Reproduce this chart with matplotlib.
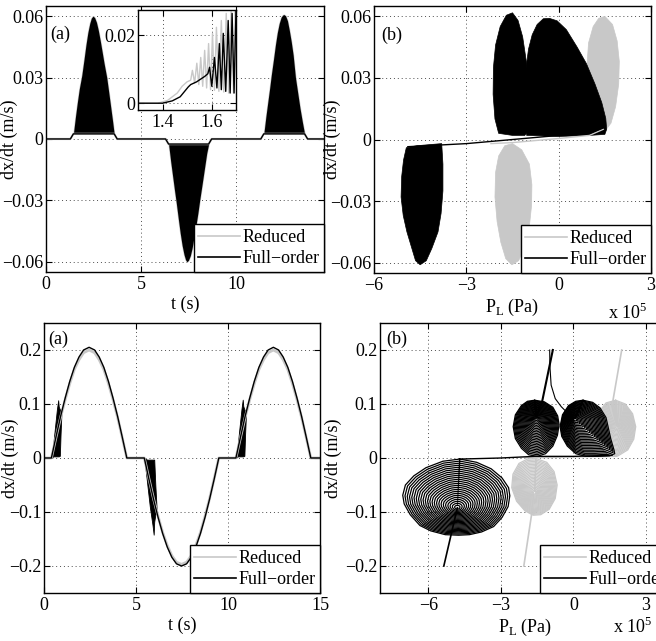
import numpy as np
import matplotlib
matplotlib.use("Agg")
import matplotlib.pyplot as plt
from matplotlib.lines import Line2D

plt.rcParams["font.family"] = ["Liberation Serif", "DejaVu Serif"]
plt.rcParams["mathtext.fontset"] = "custom"
plt.rcParams["mathtext.rm"] = "Liberation Serif"
plt.rcParams["axes.unicode_minus"] = True

GRAY = "#c8c8c8"
FS = 13

# ── Top-left: velocity time history, small input ──
TL_BASE_T = [0, 1.28, 1.44, 3.58, 3.74, 6.28, 6.44, 8.54, 8.70, 11.28, 11.44, 13.58, 13.74, 14.6]
TL_BASE_V = [0, 0, 0.0025, 0.0025, 0, 0, -0.0025, -0.0025, 0, 0, 0.0025, 0.0025, 0, 0]
LOBE_FLOOR = 0.0025

LOBE1_T = [1.44, 1.55, 1.65, 1.75, 1.88, 2.00, 2.10, 2.20, 2.30, 2.38, 2.46, 2.55,
           2.65, 2.75, 2.85, 2.95, 3.05, 3.19, 3.30, 3.40, 3.50, 3.58]
LOBE1_V = [0.0025, 0.011, 0.018, 0.0245, 0.031, 0.039, 0.046, 0.052, 0.0565, 0.059, 0.060, 0.0594,
           0.057, 0.053, 0.048, 0.0425, 0.037, 0.030, 0.0225, 0.0155, 0.0085, 0.0025]
LOBE2_T = [6.44, 6.55, 6.65, 6.75, 6.84, 6.95, 7.05, 7.15, 7.25, 7.33, 7.40, 7.48,
           7.58, 7.68, 7.78, 7.88, 7.98, 8.07, 8.20, 8.32, 8.44, 8.54]
LOBE2_V = [-0.0025, -0.011, -0.018, -0.025, -0.031, -0.039, -0.046, -0.052, -0.0565, -0.059, -0.060, -0.0593,
           -0.057, -0.053, -0.0475, -0.042, -0.036, -0.030, -0.022, -0.0145, -0.007, -0.0025]
LOBE3_T = [11.44, 11.55, 11.65, 11.75, 11.83, 11.95, 12.05, 12.15, 12.25, 12.35, 12.43, 12.49,
           12.58, 12.68, 12.78, 12.88, 12.98, 13.10, 13.22, 13.34, 13.46, 13.58]
LOBE3_V = [0.0025, 0.011, 0.018, 0.025, 0.031, 0.039, 0.046, 0.052, 0.0565, 0.0595, 0.0605, 0.0608,
           0.0602, 0.0578, 0.053, 0.0475, 0.041, 0.030, 0.0225, 0.015, 0.0085, 0.0025]

# inset: start of the first lobe
INSET_RED_T = [1.30, 1.38, 1.42, 1.46, 1.48, 1.50, 1.515, 1.522, 1.531, 1.540, 1.548, 1.556, 1.564, 1.572,
               1.580, 1.588, 1.596, 1.604, 1.612, 1.620, 1.630, 1.640, 1.650, 1.660, 1.670, 1.680,
               1.690, 1.697, 1.70]
INSET_RED_V = [0.0, 0.0, 0.0008, 0.003, 0.005, 0.0063, 0.0068, 0.0097, 0.0060, 0.0118, 0.0055, 0.0135,
               0.0050, 0.0156, 0.0045, 0.0176, 0.0040, 0.0206, 0.0038, 0.0224, 0.0035, 0.0244, 0.0033,
               0.0265, 0.0030, 0.0274, 0.0030, 0.0285, 0.02]
INSET_FULL_T = [1.30, 1.40, 1.44, 1.472, 1.505, 1.515, 1.539, 1.572, 1.585, 1.592, 1.601, 1.612, 1.622,
                1.632, 1.640, 1.648, 1.658, 1.668, 1.676, 1.684, 1.692, 1.700]
INSET_FULL_V = [0.0, 0.0, 0.0007, 0.0019, 0.0048, 0.0055, 0.0063, 0.0079, 0.0087, 0.0106, 0.0050, 0.0135,
                0.0045, 0.0176, 0.0040, 0.0206, 0.0035, 0.0244, 0.0030, 0.0265, 0.0030, 0.0280]

# ── Top-right: phase portrait, small input (x in 1e5 Pa) ──
TR_FULL_LOW_X = [-4.95, -4.6, -4.2, -3.8, -3.76, -3.76, -3.82, -3.92, -4.12, -4.3, -4.5,
                 -4.65, -4.77, -4.93, -5.05, -5.12, -5.10, -5.04]
TR_FULL_LOW_Y = [-0.004, -0.003, -0.0025, -0.002, -0.012, -0.025, -0.036, -0.045, -0.053, -0.059, -0.061,
                 -0.059, -0.053, -0.045, -0.037, -0.028, -0.018, -0.010]
TR_FULL_UL_X = [-1.5, -1.95, -2.07, -2.13, -2.12, -2.05, -1.9, -1.7, -1.5, -1.32, -1.17, -1.05,
                -0.98, -0.97, -1.0, -1.1]
TR_FULL_UL_Y = [0.002, 0.003, 0.010, 0.022, 0.035, 0.046, 0.055, 0.0605, 0.0617, 0.058, 0.050, 0.038,
                0.025, 0.012, 0.004, 0.002]
TR_FULL_UR_X = [-1.04, -1.07, -1.08, -1.05, -0.98, -0.86, -0.7, -0.5, -0.3, -0.05, 0.25, 0.6, 0.9,
                1.18, 1.4, 1.53, 1.56, 1.5, 1.0, 0.0]
TR_FULL_UR_Y = [0.002, 0.015, 0.027, 0.036, 0.044, 0.051, 0.056, 0.0588, 0.059, 0.0578, 0.0535, 0.045,
                0.037, 0.027, 0.018, 0.0103, 0.005, 0.0025, 0.002, 0.0015]
TR_RED_UP_X = [1.5, 1.75, 1.9, 1.97, 1.95, 1.85, 1.7, 1.5, 1.3, 1.1, 0.97, 0.92, 0.97, 1.12, 1.3]
TR_RED_UP_Y = [0.060, 0.056, 0.048, 0.038, 0.027, 0.016, 0.008, 0.004, 0.006, 0.013, 0.024, 0.036,
               0.047, 0.055, 0.059]
TR_RED_LOW_X = [-1.5, -1.2, -0.95, -0.87, -0.88, -0.95, -1.1, -1.3, -1.52, -1.72, -1.88, -2.0,
                -2.07, -2.05, -1.95, -1.75]
TR_RED_LOW_Y = [-0.002, -0.005, -0.012, -0.022, -0.032, -0.042, -0.052, -0.059, -0.061, -0.058, -0.050,
                -0.040, -0.028, -0.016, -0.008, -0.003]
TR_FULL_LINK_X = [-4.9, -3.0, -1.5, 0.0, 1.0, 1.5]
TR_FULL_LINK_Y = [-0.0035, -0.002, 0.0, 0.002, 0.003, 0.006]
TR_RED_LINK_X = [-2.2, -1.5, 0.0, 1.0, 1.45]
TR_RED_LINK_Y = [-0.002, -0.0015, 0.0005, 0.002, 0.005]

# ── Bottom-left: velocity time history, large input ──
HALF1_T = [0.40, 0.65, 0.90, 1.15, 1.40, 1.65, 1.90, 2.15, 2.45, 2.75, 3.00, 3.25, 3.50, 3.75, 4.00, 4.25, 4.50]
HALF2_T = [5.45, 5.70, 5.95, 6.20, 6.45, 6.70, 6.95, 7.20, 7.475, 7.75, 8.00, 8.25, 8.50, 8.75, 9.00, 9.25, 9.50]
HALF3_T = [10.43, 10.68, 10.93, 11.18, 11.43, 11.68, 11.93, 12.18, 12.465, 12.75, 13.00, 13.25, 13.50,
           13.75, 14.00, 14.25, 14.50]
FULL_POS = [0, 0.039, 0.077, 0.111, 0.142, 0.168, 0.187, 0.200, 0.205, 0.200, 0.187, 0.168, 0.142, 0.111, 0.077, 0.039, 0]
FULL_NEG = [0, -0.039, -0.076, -0.110, -0.140, -0.165, -0.184, -0.196, -0.200, -0.196, -0.184, -0.165, -0.140,
            -0.110, -0.076, -0.039, 0]
RED_POS = [0, 0.038, 0.075, 0.108, 0.138, 0.164, 0.182, 0.195, 0.200, 0.195, 0.182, 0.164, 0.138, 0.108, 0.075, 0.038, 0]
RED_NEG = [0, -0.038, -0.075, -0.108, -0.138, -0.162, -0.181, -0.193, -0.197, -0.193, -0.181, -0.162, -0.138,
           -0.108, -0.075, -0.038, 0]
BURST1_T = [0.40, 0.50, 0.60, 0.70, 0.77, 0.80, 0.86, 0.90, 0.95]
BURST1_HI = [0, 0.025, 0.058, 0.090, 0.107, 0.095, 0.090, 0.089, 0.085]
BURST1_LO = [0, 0.003, 0.003, 0.003, 0.003, 0.003, 0.004, 0.045, 0.085]
BURST2_T = [5.45, 5.60, 5.75, 5.90, 5.96, 5.99, 6.05, 6.13]
BURST2_HI = [0, -0.003, -0.003, -0.003, -0.003, -0.003, -0.050, -0.100]
BURST2_LO = [0, -0.045, -0.090, -0.125, -0.142, -0.118, -0.105, -0.100]
BURST3_T = [10.43, 10.53, 10.63, 10.73, 10.80, 10.83, 10.89, 10.93, 10.98]
BURST3_HI = [0, 0.025, 0.058, 0.090, 0.108, 0.096, 0.090, 0.089, 0.085]
BURST3_LO = [0, 0.003, 0.003, 0.003, 0.003, 0.003, 0.004, 0.045, 0.085]

# ── Bottom-right: phase portrait, large input (x in 1e5 Pa) ──
BR_FULL_BIG_X = [-4.7, -4.0, -3.4, -2.95, -2.68, -2.63, -2.7, -2.95, -3.3, -3.8, -4.3, -4.75, -5.3,
                 -5.9, -6.35, -6.75, -7.0, -7.06, -6.95, -6.6, -6.1, -5.4]
BR_FULL_BIG_Y = [-0.002, -0.008, -0.020, -0.037, -0.055, -0.070, -0.090, -0.110, -0.127, -0.137, -0.142,
                 -0.143, -0.142, -0.135, -0.125, -0.105, -0.085, -0.069, -0.050, -0.033, -0.018, -0.006]
BR_FULL_BIG_C = (-4.8, -0.092)
BR_FULL_SMALL_X = [-1.6, -1.2, -0.85, -0.65, -0.59, -0.66, -0.85, -1.15, -1.5, -1.85, -2.15, -2.4,
                   -2.49, -2.4, -2.15, -1.9]
BR_FULL_SMALL_Y = [0.107, 0.104, 0.094, 0.078, 0.062, 0.042, 0.022, 0.008, 0.003, 0.006, 0.018, 0.036,
                   0.058, 0.080, 0.097, 0.105]
BR_FULL_SMALL_C = (-1.53, 0.076)
BR_FULL_DROP_X = [0.4, 0.8, 1.1, 1.35, 1.45, 1.55, 1.68, 1.71, 1.5, 1.0, 0.5, 0.1, -0.25, -0.48, -0.55,
                  -0.45, -0.2, 0.1]
BR_FULL_DROP_Y = [0.107, 0.103, 0.093, 0.075, 0.055, 0.035, 0.015, 0.008, 0.004, 0.003, 0.003, 0.008,
                  0.022, 0.040, 0.058, 0.080, 0.097, 0.105]
BR_FULL_DROP_C = (0.05, 0.072)
BR_RED_UP_X = [1.75, 2.15, 2.45, 2.58, 2.5, 2.25, 1.85, 1.45, 1.1, 0.92, 0.9, 1.05, 1.35]
BR_RED_UP_Y = [0.107, 0.100, 0.082, 0.058, 0.035, 0.015, 0.004, 0.006, 0.020, 0.040, 0.060, 0.085, 0.102]
BR_RED_UP_C = (1.8, 0.06)
BR_RED_LOW_X = [-1.55, -1.1, -0.8, -0.67, -0.75, -1.0, -1.35, -1.66, -2.0, -2.35, -2.55, -2.5, -2.25, -1.9]
BR_RED_LOW_Y = [-0.001, -0.008, -0.025, -0.050, -0.075, -0.095, -0.105, -0.106, -0.098, -0.080, -0.055,
                -0.030, -0.010, -0.002]
BR_RED_LOW_C = (-1.6, -0.065)
BR_FULL_TAIL1_X, BR_FULL_TAIL1_Y = [-5.36, -4.8], [-0.2, -0.092]
BR_FULL_TAIL2_X, BR_FULL_TAIL2_Y = [-0.85, -1.29, -1.53], [0.2, 0.105, 0.076]
BR_FULL_TAIL3_X = [-0.98, -0.97, -0.92, -0.75, -0.5, -0.3, -0.15]
BR_FULL_TAIL3_Y = [0.2, 0.17, 0.135, 0.11, 0.095, 0.086, 0.076]
BR_RED_TAIL1_X, BR_RED_TAIL1_Y = [2.0, 1.64, 1.8], [0.2, 0.107, 0.06]
BR_RED_TAIL2_X, BR_RED_TAIL2_Y = [-1.7, -2.05], [-0.096, -0.2]
BR_FULL_LINK_X = [-4.7, -3.0, -1.6, 0.0, 1.6]
BR_FULL_LINK_Y = [-0.002, 0.0, 0.003, 0.003, 0.005]
BR_RED_LINK_X = [-2.0, 0.0, 1.8]
BR_RED_LINK_Y = [0.0, 0.002, 0.003]

RING_SCALES = np.linspace(1.0, 0.05, 24)


# ── Helpers ──────────────────────────────────────────────────────────────────

def style_axes(ax, xlim, ylim, xticks, yticks, xlabels, ylabels):
    ax.set_xlim(xlim)
    ax.set_ylim(ylim)
    ax.set_xticks(xticks)
    ax.set_yticks(yticks)
    ax.set_xticklabels(xlabels)
    ax.set_yticklabels(ylabels)
    ax.tick_params(direction="in", top=True, right=True, length=4, width=0.8,
                   labelsize=FS, pad=3)
    ax.tick_params(axis="y", pad=2)
    ax.grid(True, color="0.3", linestyle=(0, (1, 3)), linewidth=0.7)
    ax.set_axisbelow(True)
    for s in ax.spines.values():
        s.set_linewidth(1.0)


def add_legend(ax):
    handles = [Line2D([], [], color=GRAY, lw=1.2), Line2D([], [], color="black", lw=1.2)]
    leg = ax.legend(handles, ["Reduced", "Full\u2212order"], loc="lower right",
                    borderaxespad=0, fontsize=FS, handlelength=2.3, handletextpad=0.15,
                    borderpad=0.25, labelspacing=0.25, fancybox=False, framealpha=1)
    leg.get_frame().set_edgecolor("black")
    leg.get_frame().set_linewidth(1.0)
    leg.set_zorder(10)


def label_axes(ax, xlabel, ylab_x):
    ax.set_xlabel(xlabel, fontsize=FS, labelpad=2)
    ax.set_ylabel("dx/dt (m/s)", fontsize=FS)
    ax.yaxis.set_label_coords(ylab_x, 0.5)


def closed(xs, ys):
    return np.append(xs, xs[0]), np.append(ys, ys[0])


def draw_rings(ax, xs, ys, center, color):
    xs, ys = closed(np.asarray(xs), np.asarray(ys))
    for s in RING_SCALES:
        ax.plot(center[0] + s * (xs - center[0]), center[1] + s * (ys - center[1]),
                color=color, lw=0.9)


# ── Panels ───────────────────────────────────────────────────────────────────

def panel_top_left(fig):
    ax = fig.add_axes([0.0701, 0.5757, 0.4238, 0.415])
    lobes = [(LOBE1_T, LOBE1_V), (LOBE2_T, LOBE2_V), (LOBE3_T, LOBE3_V)]
    ax.plot(TL_BASE_T, TL_BASE_V, color=GRAY, lw=1.6)
    for t, v in lobes:
        floor = LOBE_FLOOR if v[len(v) // 2] > 0 else -LOBE_FLOOR
        ax.fill_between(t, floor, v, color=GRAY, lw=0.9, edgecolor=GRAY)
    ax.plot(TL_BASE_T, TL_BASE_V, color="black", lw=1.0)
    for t, v in lobes:
        floor = LOBE_FLOOR if v[len(v) // 2] > 0 else -LOBE_FLOOR
        ax.fill_between(t, floor, v, color="black", lw=0)
    style_axes(ax, (0, 14.6), (-0.065, 0.065), [0, 5, 10], [-0.06, -0.03, 0, 0.03, 0.06],
               ["0", "5", "10"], ["\u22120.06", "\u22120.03", "0", "0.03", "0.06"])
    label_axes(ax, "t (s)", -0.10)
    ax.text(0.014, 0.895, "(a)", transform=ax.transAxes, fontsize=FS, va="center")
    add_legend(ax)

    ins = fig.add_axes([0.2104, 0.8284, 0.1494, 0.156])
    ins.plot(INSET_RED_T, INSET_RED_V, color=GRAY, lw=1.0)
    ins.plot(INSET_FULL_T, INSET_FULL_V, color="black", lw=1.0)
    style_axes(ins, (1.3, 1.7), (-0.002, 0.0275), [1.4, 1.6], [0, 0.02],
               ["1.4", "1.6"], ["0", "0.02"])


def panel_top_right(fig):
    ax = fig.add_axes([0.5701, 0.5741, 0.4223, 0.4165])
    ax.fill(TR_RED_UP_X, TR_RED_UP_Y, color=GRAY, lw=0.5)
    ax.fill(TR_RED_LOW_X, TR_RED_LOW_Y, color=GRAY, lw=0.5)
    ax.plot(TR_RED_LINK_X, TR_RED_LINK_Y, color=GRAY, lw=1.0)
    ax.plot(TR_FULL_LINK_X, TR_FULL_LINK_Y, color="black", lw=1.0)
    for xs, ys in [(TR_FULL_LOW_X, TR_FULL_LOW_Y), (TR_FULL_UL_X, TR_FULL_UL_Y),
                   (TR_FULL_UR_X, TR_FULL_UR_Y)]:
        ax.fill(xs, ys, color="black", lw=0.5)
    style_axes(ax, (-6, 3), (-0.065, 0.065), [-6, -3, 0, 3], [-0.06, -0.03, 0, 0.03, 0.06],
               ["\u22126", "\u22123", "0", "3"], ["\u22120.06", "\u22120.03", "0", "0.03", "0.06"])
    label_axes(ax, r"P$_{\mathregular{L}}$ (Pa)", -0.118)
    ax.text(0.025, 0.89, "(b)", transform=ax.transAxes, fontsize=FS, va="center")
    add_legend(ax)
    fig.text(0.927, 0.511, r"x 10$^{5}$", fontsize=FS, va="center")


def panel_bottom_left(fig):
    ax = fig.add_axes([0.0671, 0.0749, 0.4207, 0.4212])
    t = [0] + HALF1_T + HALF2_T + HALF3_T + [15]
    red = [0] + RED_POS + RED_NEG + RED_POS + [0]
    full = [0] + FULL_POS + FULL_NEG + FULL_POS + [0]
    ax.plot(t, red, color=GRAY, lw=2.0)
    ax.plot(t, full, color="black", lw=1.0)
    for bt, hi, lo in [(BURST1_T, BURST1_HI, BURST1_LO), (BURST2_T, BURST2_HI, BURST2_LO),
                       (BURST3_T, BURST3_HI, BURST3_LO)]:
        ax.fill_between(bt, lo, hi, color="black", lw=0.6, edgecolor="black")
    style_axes(ax, (0, 15), (-0.25, 0.25), [0, 5, 10, 15], [-0.2, -0.1, 0, 0.1, 0.2],
               ["0", "5", "10", "15"], ["\u22120.2", "\u22120.1", "0", "0.1", "0.2"])
    label_axes(ax, "t (s)", -0.09)
    ax.text(0.015, 0.94, "(a)", transform=ax.transAxes, fontsize=FS, va="center")
    add_legend(ax)


def panel_bottom_right(fig):
    ax = fig.add_axes([0.5793, 0.0749, 0.4421, 0.4212])
    draw_rings(ax, BR_RED_UP_X, BR_RED_UP_Y, BR_RED_UP_C, GRAY)
    draw_rings(ax, BR_RED_LOW_X, BR_RED_LOW_Y, BR_RED_LOW_C, GRAY)
    ax.plot(BR_RED_TAIL1_X, BR_RED_TAIL1_Y, color=GRAY, lw=1.2)
    ax.plot(BR_RED_TAIL2_X, BR_RED_TAIL2_Y, color=GRAY, lw=1.2)
    ax.plot(BR_RED_LINK_X, BR_RED_LINK_Y, color=GRAY, lw=1.0)
    ax.plot(BR_FULL_LINK_X, BR_FULL_LINK_Y, color="black", lw=1.0)
    draw_rings(ax, BR_FULL_BIG_X, BR_FULL_BIG_Y, BR_FULL_BIG_C, "black")
    draw_rings(ax, BR_FULL_SMALL_X, BR_FULL_SMALL_Y, BR_FULL_SMALL_C, "black")
    draw_rings(ax, BR_FULL_DROP_X, BR_FULL_DROP_Y, BR_FULL_DROP_C, "black")
    ax.plot(BR_FULL_TAIL1_X, BR_FULL_TAIL1_Y, color="black", lw=1.2)
    ax.plot(BR_FULL_TAIL2_X, BR_FULL_TAIL2_Y, color="black", lw=1.5)
    ax.plot(BR_FULL_TAIL3_X, BR_FULL_TAIL3_Y, color="black", lw=0.8)
    style_axes(ax, (-8, 4), (-0.25, 0.25), [-6, -3, 0, 3], [-0.2, -0.1, 0, 0.1, 0.2],
               ["\u22126", "\u22123", "0", "3"], ["\u22120.2", "\u22120.1", "0", "0.1", "0.2"])
    label_axes(ax, r"P$_{\mathregular{L}}$ (Pa)", -0.13)
    ax.text(0.02, 0.94, "(b)", transform=ax.transAxes, fontsize=FS, va="center")
    add_legend(ax)
    fig.text(0.934, 0.022, r"x 10$^{5}$", fontsize=FS, va="center")


if __name__ == "__main__":
    fig = plt.figure(figsize=(6.56, 6.41), dpi=100)
    panel_top_left(fig)
    panel_top_right(fig)
    panel_bottom_left(fig)
    panel_bottom_right(fig)
    fig.savefig("out.png", dpi=100)
    plt.close(fig)
